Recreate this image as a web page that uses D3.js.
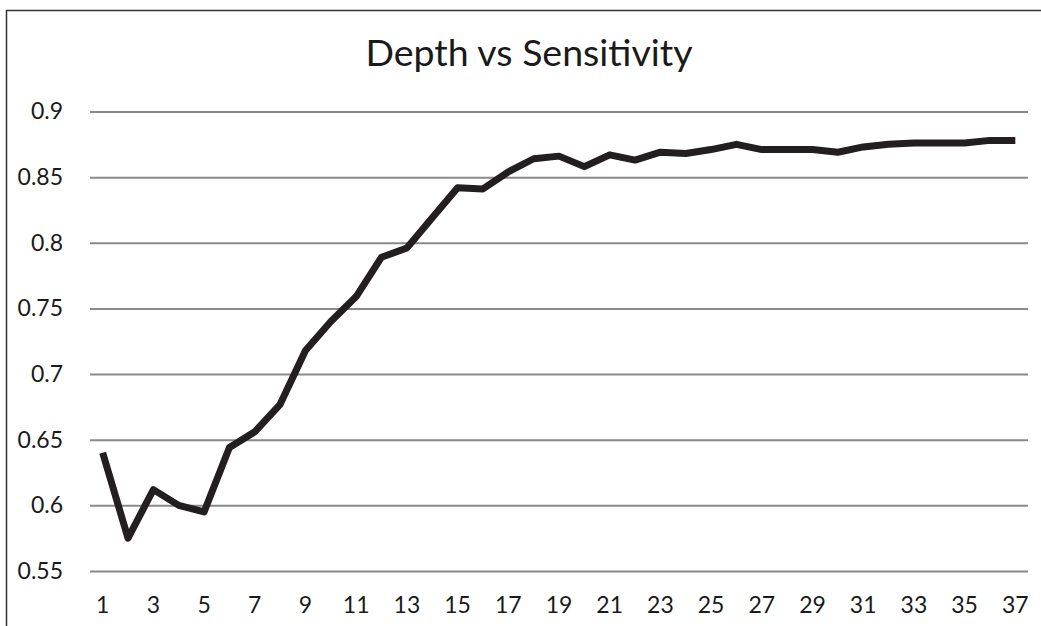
<!DOCTYPE html>
<html lang="en">
<head>
  <meta charset="UTF-8">
  <title>Depth vs Sensitivity</title>
  <script src="https://d3js.org/d3.v7.min.js"></script>
  <style>
    body { margin: 0; background: #fff; }
    svg text { font-family: Lato, "Open Sans", sans-serif; fill: #1a1a1a; }
  </style>
</head>
<body>
  <svg width="1041" height="626"></svg>
  <script>
    // data
    var depths = d3.range(1, 38);
    var sensitivity = [
      0.640, 0.575, 0.612, 0.600, 0.595, 0.644, 0.656, 0.677, 0.718, 0.740,
      0.759, 0.789, 0.796, 0.819, 0.842, 0.841, 0.854, 0.864, 0.866, 0.858,
      0.867, 0.863, 0.869, 0.868, 0.871, 0.875, 0.871, 0.871, 0.871, 0.869,
      0.873, 0.875, 0.876, 0.876, 0.876, 0.878, 0.878
    ];
    var yTicks = [0.55, 0.6, 0.65, 0.7, 0.75, 0.8, 0.85, 0.9];
    var xTickLabels = depths.filter(function (d) { return d % 2 === 1; });

    var svg = d3.select("svg");

    // chart frame (right and bottom edges fall outside the picture)
    svg.append("rect")
      .attr("x", 6.5).attr("y", 10.5)
      .attr("width", 1100).attr("height", 700)
      .attr("fill", "none")
      .attr("stroke", "#333")
      .attr("stroke-width", 1.5);

    var plotLeft = 90, plotRight = 1028, plotTop = 111.5, plotBottom = 571;

    var x = d3.scaleBand().domain(depths).range([plotLeft, plotRight]);
    var y = d3.scaleLinear().domain([0.55, 0.9]).range([plotBottom, plotTop]);

    // title
    svg.append("text")
      .attr("x", 529)
      .attr("y", 66)
      .attr("text-anchor", "middle")
      .style("font-size", "37.5px")
      .text("Depth vs Sensitivity");

    // gridlines + y labels
    var yAxis = svg.append("g")
      .attr("transform", "translate(" + plotLeft + ",0)")
      .call(d3.axisLeft(y).tickValues(yTicks)
        .tickSize(-(plotRight - plotLeft))
        .tickPadding(27)
        .tickFormat(function (d) { return String(+d.toFixed(2)); }));
    yAxis.select(".domain").remove();
    yAxis.selectAll(".tick line").attr("stroke", "#8a8a8a").attr("stroke-width", 2);
    yAxis.selectAll(".tick text")
      .style("font-size", "23px")
      .attr("fill", "#1a1a1a");

    // x labels (odd depths only)
    var xAxis = svg.append("g")
      .attr("transform", "translate(0," + plotBottom + ")")
      .call(d3.axisBottom(x).tickValues(xTickLabels).tickSize(0).tickPadding(26));
    xAxis.select(".domain").remove();
    xAxis.selectAll(".tick text")
      .style("font-size", "23px")
      .attr("fill", "#1a1a1a");

    // line
    var line = d3.line()
      .x(function (d, i) { return x(depths[i]) + x.bandwidth() / 2; })
      .y(function (d) { return y(d); });

    svg.append("path")
      .datum(sensitivity)
      .attr("d", line)
      .attr("fill", "none")
      .attr("stroke", "#231f20")
      .attr("stroke-width", 7)
      .attr("stroke-linejoin", "round");
  </script>
</body>
</html>
